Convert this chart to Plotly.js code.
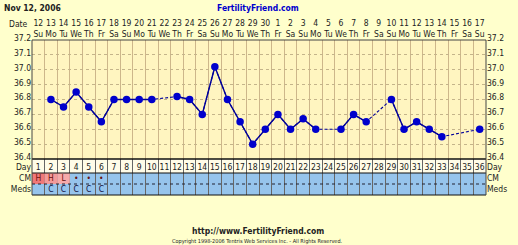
<!DOCTYPE html>
<html><head><meta charset="utf-8">
<script src="https://cdn.plot.ly/plotly-3.0.1.min.js"></script>
<style>html,body{margin:0;padding:0;background:#FFFFCC;}#c{width:518px;height:245px;}</style>
</head><body><div id="c"></div>
<script>
const days = [1,2,3,4,5,6,7,8,9,10,11,12,13,14,15,16,17,18,19,20,21,22,23,24,25,26,27,28,29,30,31,32,33,34,35,36];
const dates = ['12','13','14','15','16','17','18','19','20','21','22','23','24','25','26','27','28','29','30','1','2','3','4','5','6','7','8','9','10','11','12','13','14','15','16','17'];
const weekdays = ['Su','Mo','Tu','We','Th','Fr','Sa','Su','Mo','Tu','We','Th','Fr','Sa','Su','Mo','Tu','We','Th','Fr','Sa','Su','Mo','Tu','We','Th','Fr','Sa','Su','Mo','Tu','We','Th','Fr','Sa','Su'];
const temps = [null,36.8,36.75,36.85,36.75,36.65,36.8,36.8,36.8,36.8,null,36.82,36.8,36.7,37.02,36.8,36.65,36.5,36.6,36.7,36.6,36.67,36.6,null,36.6,36.7,36.65,null,36.8,36.6,36.65,36.6,36.55,null,null,36.6];
const tempTicks = [36.4,36.5,36.6,36.7,36.8,36.9,37.0,37.1,37.2];
const cmDays = [1,2,3,4,5,6];
const cmValues = ['H','H','L','•','•','•'];
const cmFlowDays = [1,2,3];
const cmFlowColors = ['#F07878','#F49A9A','#F6AAAA'];
const medDays = [2,3,4,5,6];
const medValues = ['C','C','C','C','C'];
const rowLabels = ['Meds','CM','Day'];

const F = 'DejaVu Sans Condensed, DejaVu Sans';
const txt = '#222';
const tableH = 36, plotH = 155;
const splitFrac = tableH/plotH;
// table rows in pixel units (y2 range 0..36): Meds 0-11, CM 11-22, Day 22-36
const rowMid = [5.5, 16.5, 27.5];

const traces = [
  {x: days, y: temps, xaxis:'x', yaxis:'y', mode:'lines', connectgaps:true,
   line:{color:'#000099', width:1.1, dash:'3px,2px'}, hoverinfo:'skip'},
  {x: days, y: temps, xaxis:'x', yaxis:'y', mode:'lines+markers', connectgaps:false,
   line:{color:'#000099', width:1.4}, marker:{color:'#0000CC', size:7.5}},
  {x: days, y: temps.map(()=>null), xaxis:'x2', yaxis:'y', mode:'markers', showlegend:false},
  {x: days, y: temps.map(()=>null), xaxis:'x', yaxis:'y3', mode:'markers', showlegend:false},
  {type:'bar', x: cmFlowDays, y: cmFlowDays.map(()=>11), base: cmFlowDays.map(()=>11), width:1,
   xaxis:'x3', yaxis:'y2', marker:{color: cmFlowColors, line:{width:0}}},
  {x: days, y: days.map(()=>rowMid[2]), text: days.map(String), mode:'text', xaxis:'x3', yaxis:'y2',
   textfont:{family:F, size:8.5, color:txt}},
  {x: cmDays, y: cmDays.map(()=>rowMid[1]), text: cmValues, mode:'text', xaxis:'x3', yaxis:'y2',
   textfont:{family:F, size:8.5, color:'#661111'}},
  {x: medDays, y: medDays.map(()=>rowMid[0]), text: medValues, mode:'text', xaxis:'x3', yaxis:'y2',
   textfont:{family:F, size:8.5, color:'#101040'}},
  {x: days, y: days.map(()=>null), xaxis:'x3', yaxis:'y4', mode:'markers', showlegend:false}
];

const xcommon = {range:[0.5,36.5], tick0:0.5, dtick:1, showline:false, zeroline:false, fixedrange:true};
const ycommon = {range:[36.4,37.2], tickvals: tempTicks, ticktext: tempTicks.map(v=>v.toFixed(1)),
  tickfont:{family:F, size:8.5, color:txt}, ticks:'', zeroline:false, fixedrange:true, ticklabelshift:-2};

const layout = {
  width:518, height:245, showlegend:false,
  paper_bgcolor:'#FFFFCC', plot_bgcolor:'#FFF5C0',
  margin:{l:32, r:32, t:40, b:50},
  barmode:'overlay',
  xaxis: Object.assign({}, xcommon, {anchor:'y', showticklabels:false, showgrid:true, gridcolor:'#CDB68A', gridwidth:1}),
  xaxis2: Object.assign({}, xcommon, {overlaying:'x', side:'top', anchor:'y', showgrid:false,
     tickmode:'array', tickvals: days, ticktext: days.map((d,i)=>dates[i]+'<br>'+weekdays[i]),
     tickfont:{family:F, size:8.5, color:txt}, ticks:'', tickangle:0}),
  xaxis3: Object.assign({}, xcommon, {anchor:'y2', matches:'x', showticklabels:false, showgrid:true, gridcolor:'#666', gridwidth:1}),
  yaxis: Object.assign({}, ycommon, {domain:[splitFrac,1], showgrid:true, gridcolor:'#C4B48A', griddash:'dot', gridwidth:1}),
  yaxis3: Object.assign({}, ycommon, {overlaying:'y', side:'right', showgrid:false}),
  yaxis2: {domain:[0,splitFrac], range:[0,tableH], tickvals:rowMid, ticktext: rowLabels, ticks:'',
     tickfont:{family:F, size:8.5, color:txt}, showgrid:false, zeroline:false, fixedrange:true},
  yaxis4: {overlaying:'y2', side:'right', range:[0,tableH], tickvals:rowMid, ticktext: rowLabels, ticks:'',
     tickfont:{family:F, size:8.5, color:txt}, showgrid:false, zeroline:false, fixedrange:true, anchor:'x3'},
  shapes: [
    {type:'rect', xref:'paper', yref:'y2', x0:0, x1:1, y0:22, y1:36, fillcolor:'#FFFCE8', line:{width:0}, layer:'below'},
    {type:'rect', xref:'paper', yref:'y2', x0:0, x1:1, y0:0, y1:22, fillcolor:'#96C4EC', line:{width:0}, layer:'below'},
    {type:'line', xref:'paper', yref:'paper', x0:0, x1:1, y0:1, y1:1, line:{color:'#444', width:1}},
    {type:'line', xref:'paper', yref:'paper', x0:0, x1:1, y0:splitFrac, y1:splitFrac, line:{color:'#111', width:1.5}},
    {type:'line', xref:'paper', yref:'y2', x0:0, x1:1, y0:22, y1:22, line:{color:'#111', width:1}},
    {type:'line', xref:'paper', yref:'y2', x0:0, x1:1, y0:11, y1:11, line:{color:'#223', width:1, dash:'dot'}},
    {type:'line', xref:'paper', yref:'paper', x0:0, x1:1, y0:0, y1:0, line:{color:'#111', width:1}},
    {type:'line', xref:'paper', yref:'paper', x0:0, x1:0, y0:0, y1:1, line:{color:'#444', width:1}},
    {type:'line', xref:'paper', yref:'paper', x0:1, x1:1, y0:0, y1:1, line:{color:'#444', width:1}}
  ],
  annotations: [
    {xref:'paper', yref:'paper', x:-30/454, y:1+40/plotH, xanchor:'left', yanchor:'top', yshift:-1,
     text:'<b>Nov 12, 2006</b>', showarrow:false, font:{family:F, size:8.5, color:txt}},
    {xref:'paper', yref:'paper', x:0.497, y:1+40/plotH, xanchor:'center', yanchor:'top', yshift:-1,
     text:'<b>FertilityFriend.com</b>', showarrow:false, font:{family:F, size:8.5, color:'#0000CC'}},
    {xref:'paper', yref:'paper', x:-2/454, y:1+16/plotH, xanchor:'right', yanchor:'middle',
     text:'Date', showarrow:false, font:{family:F, size:8.5, color:txt}},
    {xref:'paper', yref:'paper', x:0.497, y:-36/plotH, xanchor:'center', yanchor:'middle',
     text:'<b>http://www.FertilityFriend.com</b>', showarrow:false, font:{family:F, size:8.5, color:txt}},
    {xref:'paper', yref:'paper', x:0.497, y:-46/plotH, xanchor:'center', yanchor:'middle',
     text:'Copyright 1998-2006 Tentris Web Services Inc. - All Rights Reserved.', showarrow:false, font:{family:F, size:5.5, color:txt}}
  ]
};
Plotly.newPlot('c', traces, layout, {staticPlot:true, displayModeBar:false});
</script></body></html>
